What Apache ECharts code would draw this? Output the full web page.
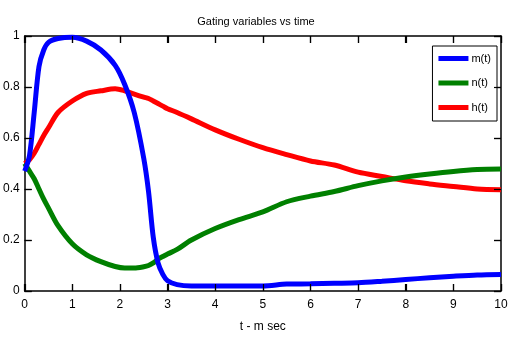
<!DOCTYPE html>
<html><head><meta charset="utf-8">
<script src="https://cdn.jsdelivr.net/npm/echarts@6/dist/echarts.min.js"></script>
<style>html,body{margin:0;padding:0;background:#fff}#c{width:512px;height:338px}</style>
</head><body><div id="c"></div>
<script>
var FONT = "'Liberation Sans', Arial, sans-serif";
var titleText = "Gating variables vs time";
var xAxisName = "t - m sec";
var seriesNames = ["m(t)", "n(t)", "h(t)"];
var xTicks = [0,1,2,3,4,5,6,7,8,9,10];
var yTicks = [0,0.2,0.4,0.6,0.8,1];
var times = [0,0.1,0.2,0.3,0.4,0.5,0.7,1.0,1.3,1.6,1.9,2.1,2.3,2.5,2.6,2.7,2.8,2.9,3.0,3.2,3.5,4,4.5,5,5.5,6,6.5,7,7.5,8,8.5,9,9.5,10];
var mVals = [0.47,0.53,0.70,0.88,0.945,0.975,0.99,0.995,0.98,0.945,0.885,0.81,0.70,0.52,0.39,0.21,0.11,0.065,0.04,0.025,0.02,0.02,0.02,0.02,0.027,0.028,0.03,0.032,0.038,0.045,0.052,0.058,0.063,0.065];
var nVals = [0.50,0.47,0.44,0.40,0.36,0.325,0.256,0.185,0.142,0.115,0.096,0.09,0.09,0.095,0.10,0.11,0.125,0.135,0.145,0.163,0.20,0.245,0.28,0.31,0.35,0.372,0.39,0.413,0.432,0.447,0.459,0.469,0.476,0.478];
var hVals = [0.50,0.515,0.54,0.575,0.61,0.64,0.70,0.745,0.775,0.785,0.793,0.785,0.772,0.76,0.755,0.745,0.735,0.725,0.715,0.70,0.675,0.632,0.595,0.562,0.535,0.51,0.494,0.466,0.449,0.432,0.42,0.41,0.40,0.397];
var colors = ["#0000ff", "#008000", "#ff0000"];

function pairs(v){ return times.map(function(t,i){ return [t, v[i]]; }); }
var allVals = [mVals, nVals, hVals];

function aLine(){ return {show:true, onZero:false, lineStyle:{color:'#000', width:1.5}}; }
function txt(sz){ return {color:'#000', fontSize:sz, fontFamily:FONT, fontWeight:'normal'}; }
function tick(){ return {show:true, inside:true, length:7, lineStyle:{color:'#000', width:1.2}}; }

var chart = echarts.init(document.getElementById('c'), null, {renderer:'canvas'});
chart.setOption({
  animation:false,
  backgroundColor:'#fff',
  title:{text:titleText, left:'center', top:11, textStyle:txt(11)},
  grid:{left:23, right:11, top:36, bottom:46},
  legend:{
    orient:'vertical', right:15, top:46, padding:[7,6,8,6], itemGap:13.5,
    itemWidth:30, itemHeight:5, icon:'rect',
    borderColor:'#000', borderWidth:1, backgroundColor:'#fff',
    textStyle:Object.assign(txt(11), {padding:[0,0,0,-2]}),
    data:seriesNames
  },
  xAxis:[
    {type:'value', min:0, max:10, interval:1, position:'bottom',
     axisLine:aLine(), axisTick:tick(), splitLine:{show:false},
     axisLabel:Object.assign({margin:8}, txt(12)),
     name:xAxisName, nameLocation:'middle', nameGap:30, nameTextStyle:txt(12)},
    {type:'value', min:0, max:10, interval:1, position:'top',
     axisLine:aLine(), axisTick:tick(), splitLine:{show:false}, axisLabel:{show:false}}
  ],
  yAxis:[
    {type:'value', min:0, max:1, interval:0.2, position:'left',
     axisLine:aLine(), axisTick:tick(), splitLine:{show:false},
     axisLabel:Object.assign({margin:5, formatter:function(v){return String(+v.toFixed(1));}}, txt(12))},
    {type:'value', min:0, max:1, interval:0.2, position:'right',
     axisLine:aLine(), axisTick:tick(), splitLine:{show:false}, axisLabel:{show:false}}
  ],
  series: seriesNames.map(function(nm, i){
    return {name:nm, type:'line', data:pairs(allVals[i]), smooth:0.3, showSymbol:false, symbol:'none',
      color:colors[i], lineStyle:{color:colors[i], width:5}, xAxisIndex:0, yAxisIndex:0, z: 3 - i};
  })
});

// inward tick marks on all four sides, positioned through the axes' own scales
var TL = 7;
var x0 = chart.convertToPixel({xAxisIndex:0}, 0), x1 = chart.convertToPixel({xAxisIndex:0}, 10);
var yB = chart.convertToPixel({yAxisIndex:0}, 0), yT = chart.convertToPixel({yAxisIndex:0}, 1);
var els = [];
function seg(a,b,c,d){ els.push({type:'line', silent:true, z:100, zlevel:1, shape:{x1:a,y1:b,x2:c,y2:d}, style:{stroke:'#000', lineWidth:1.2}}); }
xTicks.forEach(function(v){
  var px = Math.round(chart.convertToPixel({xAxisIndex:0}, v)) + 0.5;
  seg(px, yB, px, yB - TL); seg(px, yT, px, yT + TL);
});
yTicks.forEach(function(v){
  var py = Math.round(chart.convertToPixel({yAxisIndex:0}, v)) + 0.5;
  seg(x0, py, x0 + TL, py); seg(x1, py, x1 - TL, py);
});
chart.setOption({graphic:{elements:els}});
</script></body></html>
